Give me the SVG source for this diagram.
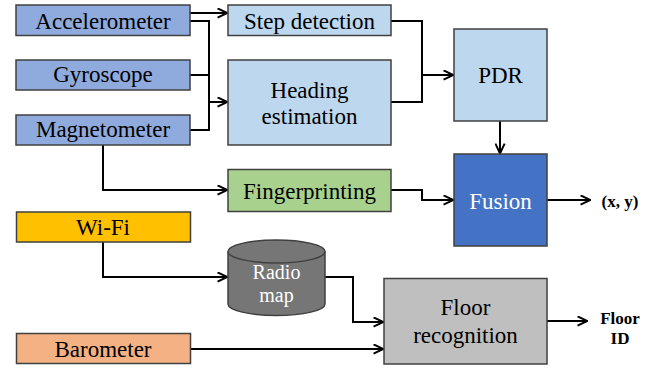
<svg xmlns="http://www.w3.org/2000/svg" width="667" height="368" viewBox="0 0 667 368">
<defs>
<style>
.box{stroke:#404040;stroke-width:1.5}
.w{fill:#fff}
.c{fill:none;stroke:#000;stroke-width:2}
</style>
<marker id="ar" viewBox="0 0 10 10" refX="10" refY="5" markerWidth="11" markerHeight="11" markerUnits="userSpaceOnUse" orient="auto">
<path d="M0.5,0.8 L9.5,5 L0.5,9.2" fill="none" stroke="#000" stroke-width="1.8"/>
</marker>
</defs>
<rect width="667" height="368" fill="#fff"/>
<g id="connectors">
<path class="c" d="M190,13 H228" marker-end="url(#ar)"/>
<path class="c" d="M190,21 H209 V130 H190"/>
<path class="c" d="M190,75 H209"/>
<path class="c" d="M209,102 H228" marker-end="url(#ar)"/>
<path class="c" d="M391,21 H422 V102 H391"/>
<path class="c" d="M422,75 H454" marker-end="url(#ar)"/>
<path class="c" d="M500,121 V154" marker-end="url(#ar)"/>
<path class="c" d="M103,145 V190 H228" marker-end="url(#ar)"/>
<path class="c" d="M391,190 H422 V200 H454" marker-end="url(#ar)"/>
<path class="c" d="M547,200 H591" marker-end="url(#ar)"/>
<path class="c" d="M103,242 V277 H228" marker-end="url(#ar)"/>
<path class="c" d="M325,277 H353 V322 H384" marker-end="url(#ar)"/>
<path class="c" d="M190,349 H384" marker-end="url(#ar)"/>
<path class="c" d="M547,321 H588" marker-end="url(#ar)"/>
</g>
<g font-family="Liberation Serif" font-size="23" text-anchor="middle">
<g id="accelerometer"><rect class="box" x="16" y="5" width="174" height="30.5" fill="#8FAADC"/><text x="103" y="28.5">Accelerometer</text></g>
<g id="gyroscope"><rect class="box" x="16" y="60" width="174" height="30" fill="#8FAADC"/><text x="103" y="82">Gyroscope</text></g>
<g id="magnetometer"><rect class="box" x="16" y="115" width="174" height="30" fill="#8FAADC"/><text x="103" y="137">Magnetometer</text></g>
<g id="step"><rect class="box" x="228" y="5" width="163" height="30.5" fill="#BDD7EE"/><text x="309.5" y="28.5">Step detection</text></g>
<g id="heading"><rect class="box" x="228" y="60" width="163" height="85" fill="#BDD7EE"/><text x="309.5" y="98">Heading</text><text x="309.5" y="124">estimation</text></g>
<g id="pdr"><rect class="box" x="454" y="29" width="93" height="92" fill="#BDD7EE"/><text x="500.5" y="83">PDR</text></g>
<g id="fingerprinting"><rect class="box" x="228" y="169.5" width="163" height="42" fill="#A9D18E"/><text x="309.5" y="199">Fingerprinting</text></g>
<g id="fusion"><rect class="box" x="454" y="154" width="93" height="92" fill="#4472C4"/><text class="w" x="500.5" y="208.5">Fusion</text></g>
<g id="xy"><text x="620" y="206.5" font-size="17" font-weight="bold">(x, y)</text></g>
<g id="wifi"><rect class="box" x="16.5" y="212" width="174" height="30" fill="#FFC000"/><text x="103" y="235">Wi-Fi</text></g>
<g id="radiomap">
<path class="box" d="M228,251.5 V304 A48.5,11.5 0 0 0 325,304 V251.5 A48.5,11.5 0 0 0 228,251.5 Z" fill="#767676"/>
<path class="box" d="M228,251.5 A48.5,11.5 0 0 0 325,251.5" fill="none"/>
<text class="w" x="276.5" y="279" font-size="20">Radio</text><text class="w" x="276.5" y="301.5" font-size="20">map</text>
</g>
<g id="barometer"><rect class="box" x="16.5" y="333.5" width="174" height="30" fill="#F4B183"/><text x="103" y="356.5">Barometer</text></g>
<g id="floor"><rect class="box" x="384" y="278.5" width="163" height="85.5" fill="#BFBFBF"/><text x="465.5" y="315">Floor</text><text x="465.5" y="343">recognition</text></g>
<g id="floorid" font-size="17" font-weight="bold"><text x="620" y="324">Floor</text><text x="620" y="344">ID</text></g>
</g>
</svg>
